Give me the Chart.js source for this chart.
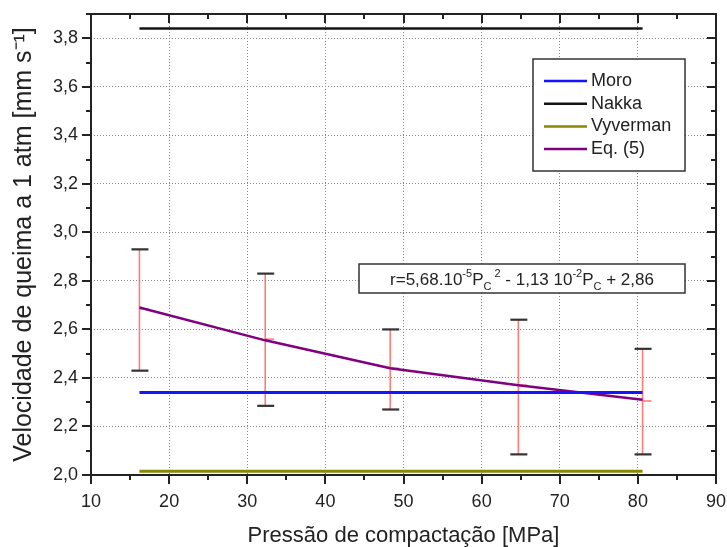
<!DOCTYPE html>
<html>
<head>
<meta charset="utf-8">
<script src="https://cdn.jsdelivr.net/npm/chart.js@4.4.0/dist/chart.umd.min.js"></script>
<style>
  html, body { margin: 0; padding: 0; background: #fff; }
  #wrap { width: 727px; height: 547px; }
</style>
</head>
<body>
<div id="wrap"><canvas id="burnChart"></canvas></div>
<script>
// values
const pressures = [16.2, 32.3, 48.3, 64.7, 80.6];
const eq5Rate   = [2.69, 2.555, 2.44, 2.37, 2.31];
const errMid    = [2.685, 2.56, 2.44, 2.37, 2.305];
const errLow    = [2.43, 2.285, 2.27, 2.085, 2.085];
const errHigh   = [2.93, 2.83, 2.60, 2.64, 2.52];
const refRange  = [16.2, 80.6];
const moroRate = 2.34;
const nakkaRate = 3.84;
const vyvermanRate = 2.015;
const xLimits = [10, 90];
const yLimits = [2.0, 3.9];
const xStep = 10;
const yStep = 0.2;

const FONT = "'Liberation Sans', Arial, sans-serif";
const INK = '#222';

function flat(v) {
  return refRange.map(x => ({ x: x, y: v }));
}

const errorBars = {
  id: 'errorBars',
  beforeDatasetsDraw(chart) {
    const { ctx, scales: { x, y } } = chart;
    ctx.save();
    pressures.forEach((p, i) => {
      const px = x.getPixelForValue(p);
      ctx.strokeStyle = 'rgba(255,80,80,0.75)';
      ctx.lineWidth = 1.6;
      ctx.beginPath();
      ctx.moveTo(px, y.getPixelForValue(errLow[i]));
      ctx.lineTo(px, y.getPixelForValue(errHigh[i]));
      ctx.stroke();
      ctx.beginPath();
      ctx.moveTo(px, y.getPixelForValue(errMid[i]));
      ctx.lineTo(px + 9, y.getPixelForValue(errMid[i]));
      ctx.stroke();
      ctx.strokeStyle = '#333';
      ctx.lineWidth = 2.2;
      [errLow[i], errHigh[i]].forEach(v => {
        const py = y.getPixelForValue(v);
        ctx.beginPath();
        ctx.moveTo(px - 8, py);
        ctx.lineTo(px + 9, py);
        ctx.stroke();
      });
    });
    ctx.restore();
  }
};

const frame = {
  id: 'frame',
  afterDraw(chart) {
    const { ctx, chartArea: a, scales: { x, y } } = chart;
    ctx.save();
    ctx.strokeStyle = INK;
    ctx.lineWidth = 2;
    ctx.strokeRect(a.left, a.top, a.right - a.left, a.bottom - a.top);
    for (let v = xLimits[0]; v <= xLimits[1] + 1e-9; v += xStep / 2) {
      const major = Math.abs(v / xStep - Math.round(v / xStep)) < 1e-6;
      const len = major ? 9 : 5;
      const px = Math.round(x.getPixelForValue(v));
      ctx.beginPath();
      ctx.moveTo(px, a.bottom); ctx.lineTo(px, a.bottom + len);
      ctx.moveTo(px, a.top); ctx.lineTo(px, a.top + len);
      ctx.stroke();
    }
    for (let v = yLimits[0]; v <= yLimits[1] + 1e-9; v += yStep / 2) {
      const major = Math.abs(v / yStep - Math.round(v / yStep)) < 1e-6;
      const len = major ? 9 : 5;
      const py = Math.round(y.getPixelForValue(v));
      ctx.beginPath();
      ctx.moveTo(a.left, py); ctx.lineTo(a.left - len, py);
      ctx.moveTo(a.right, py); ctx.lineTo(a.right - len, py);
      ctx.stroke();
    }
    ctx.restore();
  }
};

const boxLegend = {
  id: 'boxLegend',
  afterDraw(chart) {
    const { ctx, chartArea: a } = chart;
    const right = a.right - 31, top = a.top + 45;
    const w = 152, h = 112;
    ctx.save();
    ctx.fillStyle = '#fff';
    ctx.fillRect(right - w, top, w, h);
    ctx.strokeStyle = '#333';
    ctx.lineWidth = 1.5;
    ctx.strokeRect(right - w, top, w, h);
    ctx.font = '18px ' + FONT;
    ctx.textBaseline = 'middle';
    chart.data.datasets.forEach((ds, i) => {
      const yy = top + 22 + i * 22.7;
      ctx.strokeStyle = ds.borderColor;
      ctx.lineWidth = 2.5;
      ctx.beginPath();
      ctx.moveTo(right - w + 11, yy);
      ctx.lineTo(right - w + 54, yy);
      ctx.stroke();
      ctx.fillStyle = INK;
      ctx.fillText(ds.label, right - w + 58, yy);
    });
    ctx.restore();
  }
};

const equationBox = {
  id: 'equationBox',
  afterDraw(chart) {
    const { ctx, chartArea: a } = chart;
    const right = a.right - 31, top = a.top + 250;
    const w = 326, h = 29;
    ctx.save();
    ctx.fillStyle = '#fff';
    ctx.fillRect(right - w, top, w, h);
    ctx.strokeStyle = '#333';
    ctx.lineWidth = 1.5;
    ctx.strokeRect(right - w, top, w, h);
    const parts = [
      ['r=5,68.10', 0], ['-5', -1], ['P', 0], ['C', 1], [' 2', -1],
      [' - 1,13 10', 0], ['-2', -1], ['P', 0], ['C', 1], [' + 2,86', 0]
    ];
    const big = '17px ' + FONT, small = '11px ' + FONT;
    let total = 0;
    parts.forEach(p => { ctx.font = p[1] ? small : big; total += ctx.measureText(p[0]).width; });
    let xx = right - w / 2 - total / 2;
    const base = top + h / 2 + 6;
    ctx.fillStyle = INK;
    ctx.textBaseline = 'alphabetic';
    parts.forEach(p => {
      ctx.font = p[1] ? small : big;
      const dy = p[1] === -1 ? -8 : p[1] === 1 ? 5 : 0;
      ctx.fillText(p[0], xx, base + dy);
      xx += ctx.measureText(p[0]).width;
    });
    ctx.restore();
  }
};

new Chart(document.getElementById('burnChart'), {
  type: 'line',
  data: {
    datasets: [
      { label: 'Moro', data: flat(moroRate), borderColor: 'rgb(20,20,255)', borderWidth: 3 },
      { label: 'Nakka', data: flat(nakkaRate), borderColor: 'rgb(20,20,20)', borderWidth: 2.5 },
      { label: 'Vyverman', data: flat(vyvermanRate), borderColor: 'rgb(135,135,10)', borderWidth: 3 },
      { label: 'Eq. (5)', data: pressures.map((p, i) => ({ x: p, y: eq5Rate[i] })), borderColor: 'rgb(128,0,128)', borderWidth: 2.5 }
    ]
  },
  options: {
    responsive: true,
    maintainAspectRatio: false,
    animation: false,
    elements: { point: { radius: 0 }, line: { tension: 0 } },
    layout: { padding: { top: 14, right: 11, left: 0, bottom: 0 } },
    plugins: { legend: { display: false }, tooltip: { enabled: false } },
    scales: {
      x: {
        type: 'linear',
        min: xLimits[0], max: xLimits[1],
        afterFit(s) { s.height = 72; s.paddingLeft = 0; s.paddingRight = 0; },
        grid: { color: '#888', lineWidth: 1, drawTicks: false },
        border: { display: false, dash: [1, 2] },
        ticks: { stepSize: xStep, padding: 16, color: INK, font: { family: FONT, size: 18 } },
        title: { display: true, text: 'Pressão de compactação [MPa]', color: INK, font: { family: FONT, size: 22 }, padding: { top: 8, bottom: -2 } }
      },
      y: {
        min: yLimits[0], max: yLimits[1],
        afterFit(s) { s.width = 91; s.paddingTop = 0; s.paddingBottom = 0; },
        grid: { color: '#888', lineWidth: 1, drawTicks: false },
        border: { display: false, dash: [1, 2] },
        ticks: {
          stepSize: yStep, includeBounds: false, padding: 13, color: INK,
          font: { family: FONT, size: 18 },
          callback: v => v.toFixed(1).replace('.', ',')
        },
        title: { display: true, text: 'Velocidade de queima a 1 atm [mm s⁻¹]', color: INK, font: { family: FONT, size: 25 }, padding: { top: 9, bottom: 0 } }
      }
    }
  },
  plugins: [errorBars, frame, boxLegend, equationBox]
});
</script>
</body>
</html>
